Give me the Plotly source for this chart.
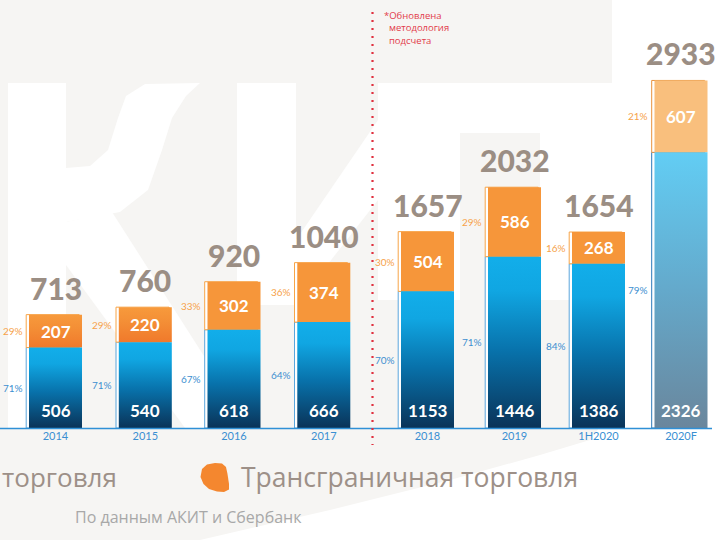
import plotly.graph_objects as go

# ---------------- data ----------------
categories = ["2014", "2015", "2016", "2017", "2018", "2019", "1H2020", "2020F"]
domestic = [506, 540, 618, 666, 1153, 1446, 1386, 2326]
crossborder = [207, 220, 302, 374, 504, 586, 268, 607]
totals = [713, 760, 920, 1040, 1657, 2032, 1654, 2933]
share_domestic = ["71%", "71%", "67%", "64%", "70%", "71%", "84%", "79%"]
share_cross = ["29%", "29%", "33%", "36%", "30%", "29%", "16%", "21%"]
legend_cross = "Трансграничная торговля"
legend_dom_visible = "торговля"
note_lines = ["*Обновлена", "методология", "подсчета"]
source_text = "По данным АКИТ и Сбербанк"

# ---------------- layout constants ----------------
W, H = 724, 540
BASE = 428            # pixel row of the baseline (bottom of plot area)
XPOS = [55.5, 145.3, 234, 323.8, 427.5, 514.5, 598.5, 681]
BAR_W = 53
LEFT_SCALE = 0.159    # px per unit, old methodology
RIGHT_SCALE = 0.1185  # px per unit, new methodology
N_OLD = 4

BG = "#f6f5f3"
GRAY_TXT = "#9b8e84"
ORANGE = "#f6963a"
ORANGE_F = "#f9bf7d"
ORANGE_GRAD = [[0, "#f0792b"], [0.6, "#f48f36"], [1, "#f79a3c"]]
BLUE_SCALE = [[0, "#0a3358"], [0.45, "#0872ab"], [0.8, "#10a6e2"], [1, "#12aeea"]]
BLUE_SCALE_F = [[0, "#6a869c"], [0.5, "#64a9cb"], [1, "#62cdf4"]]


def px(x):
    return x / W


def py(y):
    return (BASE - y) / BASE


def path(points, close=True):
    s = "M" + " L".join(f"{px(a):.5f},{py(b):.5f}" for a, b in points)
    return s + (" Z" if close else "")


fig = go.Figure()
shapes = []
annotations = []

# ---------------- decorative watermark (white letters) ----------------
right_area = [(612, 0), (724, 0), (724, 540), (200, 540), (330, 510), (450, 480),
              (540, 455), (590, 440), (605, 420), (612, 400)]
wm = [
    [(8, 83), (66, 83), (66, 428), (8, 428)],                       # K stem
    [(66, 168), (90, 166), (108, 150), (118, 118), (126, 96), (145, 84), (200, 83),
     (186, 96), (172, 118), (162, 150), (148, 190), (120, 212), (66, 222)],  # K arm
    [(66, 222), (112, 212), (250, 428), (185, 428), (66, 265)],     # K leg
    [(237, 83), (296, 83), (296, 305), (237, 305)],                 # И stem
    [(296, 240), (378, 120), (378, 200), (296, 305)],               # И diagonal
    [(378, 83), (460, 83), (460, 300), (378, 300)],                 # И right stem
    [(460, 83), (615, 83), (615, 133), (460, 133)],                 # Т bar
    [(540, 133), (615, 133), (615, 300), (540, 300)],               # Т stem
    right_area,
]
for poly in wm:
    shapes.append(dict(type="path", xref="paper", yref="paper", path=path(poly),
                       fillcolor="#ffffff", line=dict(width=0), layer="below"))

# ---------------- bars ----------------
for i, cat in enumerate(categories):
    c = XPOS[i]
    yax = "y" if i < N_OLD else "y2"
    yref = yax
    fc = i == len(categories) - 1
    dom, cb, tot = domestic[i], crossborder[i], totals[i]
    br_blue = "#2a78b8" if fc else "#5aa6dc"
    br_or = "#e8923c" if fc else "#f7a448"
    x0, x1 = c - BAR_W / 2, c + BAR_W / 2

    # bracket outlines (white strip with thin coloured edge)
    fig.add_trace(go.Bar(x=[c], y=[dom], base=[0], width=BAR_W, offset=-29.3, yaxis=yax,
                         marker=dict(color="#ffffff", line=dict(color=br_blue, width=1)),
                         hoverinfo="skip", showlegend=False))
    fig.add_trace(go.Bar(x=[c], y=[cb], base=[dom], width=BAR_W, offset=-29.3, yaxis=yax,
                         marker=dict(color="#ffffff", line=dict(color=br_or, width=1)),
                         hoverinfo="skip", showlegend=False))
    # orange segment
    if i < 2:
        fig.add_trace(go.Scatter(x=[x0, x1, x1, x0, x0], y=[dom, dom, tot, tot, dom], yaxis=yax,
                                 mode="lines", fill="toself",
                                 line=dict(width=0, color="rgba(0,0,0,0)"),
                                 fillgradient=dict(type="vertical", colorscale=ORANGE_GRAD),
                                 hoverinfo="skip", showlegend=False))
    else:
        fig.add_trace(go.Bar(x=[c], y=[cb], base=[dom], width=BAR_W, offset=-BAR_W / 2, yaxis=yax,
                             marker=dict(color=ORANGE_F if fc else ORANGE, line=dict(width=0)),
                             hoverinfo="skip", showlegend=False))
    # blue segment with vertical gradient
    fig.add_trace(go.Scatter(x=[x0, x1, x1, x0, x0], y=[0, 0, dom, dom, 0], yaxis=yax,
                             mode="lines", fill="toself", line=dict(width=0, color="rgba(0,0,0,0)"),
                             fillgradient=dict(type="vertical",
                                               colorscale=BLUE_SCALE_F if fc else BLUE_SCALE),
                             hoverinfo="skip", showlegend=False))

    # labels
    annotations.append(dict(x=c, y=tot, xref="x", yref=yref, text=f"{tot}", showarrow=False,
                            yanchor="middle", yshift=27,
                            font=dict(family="Lato", size=30, color=GRAY_TXT, weight=900)))
    annotations.append(dict(x=c, y=dom + cb / 2, xref="x", yref=yref, text=f"{cb}",
                            showarrow=False, yanchor="middle",
                            font=dict(family="Lato", size=17, color="#ffffff", weight=700)))
    annotations.append(dict(x=c, y=0, xref="x", yref=yref, text=f"{dom}",
                            showarrow=False, yanchor="middle", yshift=18,
                            font=dict(family="Lato", size=17, color="#ffffff", weight=700)))
    annotations.append(dict(x=c - 31, y=dom + cb / 2, xref="x", yref=yref, text=share_cross[i],
                            showarrow=False, xanchor="right", yanchor="middle",
                            font=dict(family="Lato", size=10, color="#f6a24a")))
    annotations.append(dict(x=c - 31, y=dom / 2, xref="x", yref=yref, text=share_domestic[i],
                            showarrow=False, xanchor="right", yanchor="middle",
                            font=dict(family="Lato", size=10, color="#3d8fd0")))

# ---------------- axis line & divider ----------------
shapes.append(dict(type="line", xref="paper", yref="paper", x0=0, x1=px(712), y0=py(428.5), y1=py(428.5),
                   line=dict(color="#2f90d6", width=1.5)))
shapes.append(dict(type="line", xref="paper", yref="paper", x0=px(372.5), x1=px(372.5),
                   y0=py(12), y1=py(445), line=dict(color="#e0303f", width=2.2, dash="2px,6px")))

# note (hanging indent after the asterisk)
note_text = "<br>".join([note_lines[0]] + ["\u00a0\u00a0" + t for t in note_lines[1:]])
annotations.append(dict(x=px(382), y=py(6.5), xref="paper", yref="paper", text=note_text,
                        showarrow=False, xanchor="left", yanchor="top", align="left",
                        font=dict(family="Open Sans", size=9.5, color="#e23b4a")))

# legend
blob = [(215, 463), (222, 463.5), (226, 467), (227.5, 474), (229, 484), (229, 489.5),
        (224, 492), (217, 491.5), (209, 489), (203.5, 484), (200.5, 477), (202, 469), (207, 464.5)]
shapes.append(dict(type="path", xref="paper", yref="paper", path=path(blob),
                   fillcolor="#f4872f", line=dict(width=0)))
annotations.append(dict(x=px(0), y=py(477), xref="paper", yref="paper", text=legend_dom_visible,
                        showarrow=False, xanchor="left", yanchor="middle",
                        font=dict(family="Open Sans", size=26, color="#9d9088")))
annotations.append(dict(x=px(239), y=py(477), xref="paper", yref="paper", text=legend_cross,
                        showarrow=False, xanchor="left", yanchor="middle",
                        font=dict(family="Open Sans", size=26.5, color="#9d9088")))
annotations.append(dict(x=px(73), y=py(517), xref="paper", yref="paper", text=source_text,
                        showarrow=False, xanchor="left", yanchor="middle",
                        font=dict(family="Open Sans", size=16, color="#a8a8a8")))

fig.update_layout(
    width=W, height=H,
    margin=dict(l=0, r=0, t=0, b=H - BASE, pad=0),
    paper_bgcolor=BG, plot_bgcolor="rgba(0,0,0,0)",
    barmode="overlay", showlegend=False,
    xaxis=dict(range=[0, W], tickvals=XPOS, ticktext=categories, showgrid=False, zeroline=False,
               showline=False, ticks="", tickfont=dict(family="Lato", size=11, color="#3a8fd2"),
               fixedrange=True),
    yaxis=dict(range=[0, BASE / LEFT_SCALE], visible=False, fixedrange=True),
    yaxis2=dict(range=[0, BASE / RIGHT_SCALE], visible=False, overlaying="y", fixedrange=True),
    shapes=shapes, annotations=annotations,
)

fig.write_html("out.html")
